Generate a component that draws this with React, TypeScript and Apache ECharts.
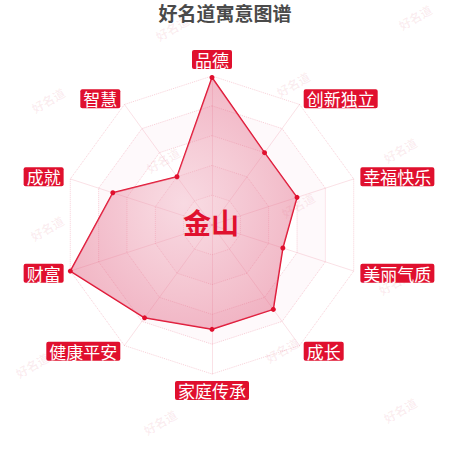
import React, { useEffect, useRef } from "react";
import * as echarts from "echarts";

const titleText = "好名道寓意图谱";
const centerName = "金山";
const indicators = ["品德", "智慧", "成就", "财富", "健康平安", "家庭传承", "成长", "美丽气质", "幸福快乐", "创新独立"];
const values = [99, 40, 70, 100, 77, 70, 70, 50, 60, 60];
const maxValue = 100;
const watermarkPositions: [number, number][] = [
  [172, 28], [415, 17], [293, 84], [48, 100], [163, 160], [400, 150],
  [47, 228], [298, 205], [395, 282], [282, 350], [32, 365], [160, 422], [400, 410],
];

const RED = "#e0102e";

export default function App() {
  const ref = useRef<HTMLDivElement>(null);
  useEffect(() => {
    if (!ref.current) return;
    const chart = echarts.init(ref.current, undefined, { renderer: "svg" });
    const watermarks = watermarkPositions.map(([x, y]) => ({
      type: "text",
      x,
      y,
      rotation: Math.PI / 6,
      z: 0,
      silent: true,
      style: {
        text: "好名道",
        align: "center",
        verticalAlign: "middle",
        fontSize: 12,
        fontWeight: "bold",
        fontFamily: "Noto Sans CJK SC",
        fill: "rgba(210,60,90,0.09)",
      },
    }));
    chart.setOption({
      animation: false,
      backgroundColor: "#ffffff",
      title: {
        text: titleText,
        left: "center",
        top: -2,
        textStyle: { fontSize: 19, fontWeight: "bold", color: "#4a4a4a", fontFamily: "Noto Sans CJK SC" },
      },
      radar: {
        center: [212, 225],
        radius: 149,
        startAngle: 90,
        splitNumber: 5,
        shape: "polygon",
        nameGap: 7,
        indicator: indicators.map((name) => ({ name, max: maxValue })),
        axisName: {
          color: "#ffffff",
          backgroundColor: RED,
          borderRadius: 2,
          padding: [1, 3],
          fontSize: 17,
          fontFamily: "Noto Sans CJK SC",
        },
        splitLine: { lineStyle: { color: "rgba(220,20,60,0.2)", type: "dotted", width: 1 } },
        splitArea: {
          show: true,
          areaStyle: { color: ["rgba(255,255,255,0)", "rgba(245,200,212,0.1)"] },
        },
        axisLine: { lineStyle: { color: "rgba(220,20,60,0.13)" } },
      },
      series: [
        {
          type: "radar",
          symbol: "circle",
          symbolSize: 5,
          itemStyle: { color: RED },
          lineStyle: { color: RED, width: 1.5 },
          areaStyle: {
            color: new echarts.graphic.RadialGradient(0.5, 0.5, 0.6, [
              { offset: 0, color: "rgba(240,175,192,0.6)" },
              { offset: 1, color: "rgba(222,80,115,0.62)" },
            ]),
          },
          data: [{ value: values, name: centerName }],
        },
      ],
      graphic: [
        ...watermarks,
        {
          type: "text",
          x: 211,
          y: 222,
          z: 100,
          silent: true,
          style: {
            text: centerName,
            align: "center",
            verticalAlign: "middle",
            fontSize: 28,
            fontWeight: "bold",
            fontFamily: "Noto Sans CJK SC",
            fill: RED,
          },
        },
      ],
    });
    return () => chart.dispose();
  }, []);
  return <div ref={ref} style={{ position: "fixed", left: 0, top: 0, width: 450, height: 450 }} />;
}
